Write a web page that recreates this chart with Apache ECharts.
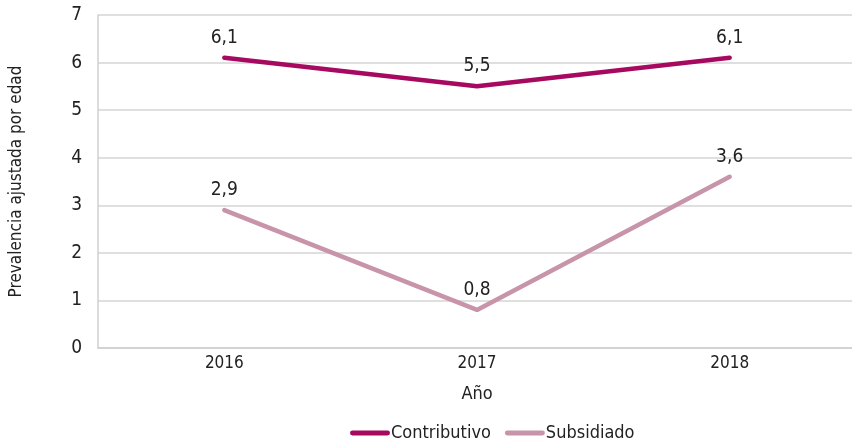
<!DOCTYPE html>
<html><head><meta charset="utf-8">
<script src="https://cdn.jsdelivr.net/npm/echarts@6/dist/echarts.min.js"></script>
<style>html,body{margin:0;padding:0;background:#fff}#c{width:852px;height:439px}</style>
</head><body><div id="c"></div>
<script>
var categories = ['2016', '2017', '2018'];
var contributivo = [6.1, 5.5, 6.1];
var subsidiado = [2.9, 0.8, 3.6];
var yTicks = [0, 1, 2, 3, 4, 5, 6, 7];

var FONT = '"Liberation Sans Narrow", "DejaVu Sans Condensed", sans-serif';
var chart = echarts.init(document.getElementById('c'));
function lbl(p){ return String(p.value).replace('.', ','); }
chart.setOption({
  animation: false,
  textStyle: { fontFamily: FONT },
  grid: { left: 98, right: -4, top: 15, bottom: 91, containLabel: false, outerBoundsMode: 'none' },
  legend: {
    top: 419, left: 345, itemWidth: 40, itemHeight: 12, itemGap: 14,
    icon: 'path://M2,3.5 L38,3.5 A2.5,2.5 0 0 1 38,8.5 L2,8.5 A2.5,2.5 0 0 1 2,3.5 Z',
    textStyle: { fontFamily: FONT, fontSize: 18, color: '#222', padding: [0,0,0,-4] },
    data: [
      { name: 'Contributivo', itemStyle: { color: '#a6095f', opacity: 1 } },
      { name: 'Subsidiado', itemStyle: { color: '#c894a9', opacity: 1 } }
    ]
  },
  xAxis: {
    type: 'category', data: categories, boundaryGap: true,
    name: 'Año', nameLocation: 'middle', nameGap: 37,
    nameTextStyle: { fontFamily: FONT, fontSize: 18, color: '#222' },
    axisLine: { lineStyle: { color: '#cfcfcf', width: 1.5 } },
    axisTick: { show: false },
    axisLabel: { fontFamily: FONT, fontSize: 17, color: '#222', margin: 7 }
  },
  yAxis: {
    type: 'value', min: 0, max: 7, interval: 1,
    name: 'Prevalencia ajustada por edad', nameLocation: 'middle', nameGap: 73,
    nameTextStyle: { fontFamily: FONT, fontSize: 17, color: '#222' },
    axisLine: { show: true, lineStyle: { color: '#cfcfcf', width: 1.5 } },
    axisTick: { show: false },
    splitLine: { lineStyle: { color: '#d4d4d4', width: 1.5 } },
    axisLabel: { fontFamily: FONT, fontSize: 19, color: '#222', margin: 16,
      formatter: function(v){ return yTicks.indexOf(v) >= 0 ? String(v) : ''; } }
  },
  series: [
    { name: 'Contributivo', type: 'line', data: contributivo, symbol: 'circle', symbolSize: 3, showSymbol: true,
      lineStyle: { color: '#a6095f', width: 4.5, cap: 'round' }, itemStyle: { color: '#a6095f' },
      label: { show: true, position: 'top', distance: 9, fontFamily: FONT, fontSize: 19, color: '#222', formatter: lbl } },
    { name: 'Subsidiado', type: 'line', data: subsidiado, symbol: 'circle', symbolSize: 3, showSymbol: true,
      lineStyle: { color: '#c894a9', width: 4.5, cap: 'round' }, itemStyle: { color: '#c894a9' },
      label: { show: true, position: 'top', distance: 9, fontFamily: FONT, fontSize: 19, color: '#222', formatter: lbl } }
  ]
});
</script></body></html>
